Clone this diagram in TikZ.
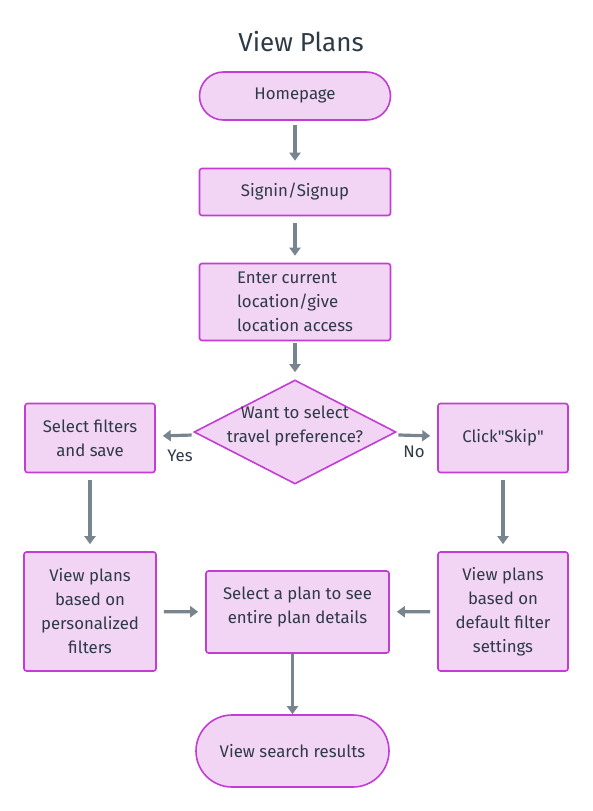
\documentclass[tikz,border=0pt]{standalone}
\usepackage{fontspec}
\setmainfont{Fira Sans}
\usetikzlibrary{shapes.geometric,arrows.meta}
\definecolor{boxfill}{HTML}{F2D4F4}
\definecolor{boxline}{HTML}{C23DD3}
\definecolor{arrowgray}{HTML}{78858F}
\definecolor{inkdark}{HTML}{2E3A46}

\begin{document}
\begin{tikzpicture}[x=1pt,y=-1pt,
  font=\fontsize{16.8}{24}\selectfont, text=inkdark,
  proc/.style={draw=boxline,fill=boxfill,line width=1.6pt,rounded corners=2.5pt,
    align=center,inner sep=0pt},
  term/.style={proc,rounded corners=24pt},
  decide/.style={diamond,draw=boxline,fill=boxfill,line width=1.6pt,inner sep=0pt,
    minimum width=202pt,minimum height=104pt},
  flow/.style={draw=arrowgray,line width=3.2pt,-{Triangle[width=11pt,length=8pt]},
    shorten <=7pt,shorten >=7pt},
  lbl/.style={inner sep=0pt}]
\useasboundingbox (0,0) rectangle (592,811); % page size
\node[font=\fontsize{26}{30}\selectfont] (title) at (301,42) {View Plans};
\node[term,minimum width=191pt,minimum height=48pt] (home) at (295,96) {Homepage};
\node[proc,minimum width=191pt,minimum height=47pt] (sign) at (295,192) {Signin/Signup};
\node[proc,minimum width=191pt,minimum height=77pt,align=left] (loc) at (295,302)
  {Enter current\\location/give\\location access};
\node[decide,label={[yshift=6pt,align=center]center:Want to select\\travel preference?}] (ask) at (295,432) {};
\node[proc,minimum width=130pt,minimum height=69pt] (filt) at (90,438) {Select filters\\and save};
\node[proc,minimum width=130pt,minimum height=69pt] (skip) at (503,438) {Click\textquotedbl Skip\textquotedbl};
\node[proc,minimum width=132pt,minimum height=119pt] (mine) at (90,611.5)
  {View plans\\based on\\personalized\\filters};
\node[proc,minimum width=130pt,minimum height=119pt] (dflt) at (503,611.5)
  {View plans\\based on\\default filter\\settings};
\node[proc,minimum width=183pt,minimum height=82pt,
  label={[yshift=5pt,align=center]center:Select a plan to see\\entire plan details}] (pick) at (297.5,612) {};
\node[term,rounded corners=36pt,minimum width=193pt,minimum height=72pt] (done) at (292.5,751)
  {View search results};
\node[lbl] (yes) at (180,456) {Yes};
\node[lbl] (no) at (414,452) {No};
% arrows
\draw[flow,shorten <=4pt] (home) -- (sign);
\draw[flow] (sign) -- (loc);
\draw[flow,shorten <=2pt] (loc) -- (ask);
\draw[flow] (ask) -- (filt);
\draw[flow] (ask) -- (skip);
\draw[flow] (filt) -- (mine);
\draw[flow] (skip) -- (dflt);
\draw[flow] (mine) -- (pick);
\draw[flow] (dflt) -- (pick);
\draw[flow,shorten <=0pt,shorten >=0pt] (pick.south -| done.north) -- (done);
\end{tikzpicture}
\end{document}
